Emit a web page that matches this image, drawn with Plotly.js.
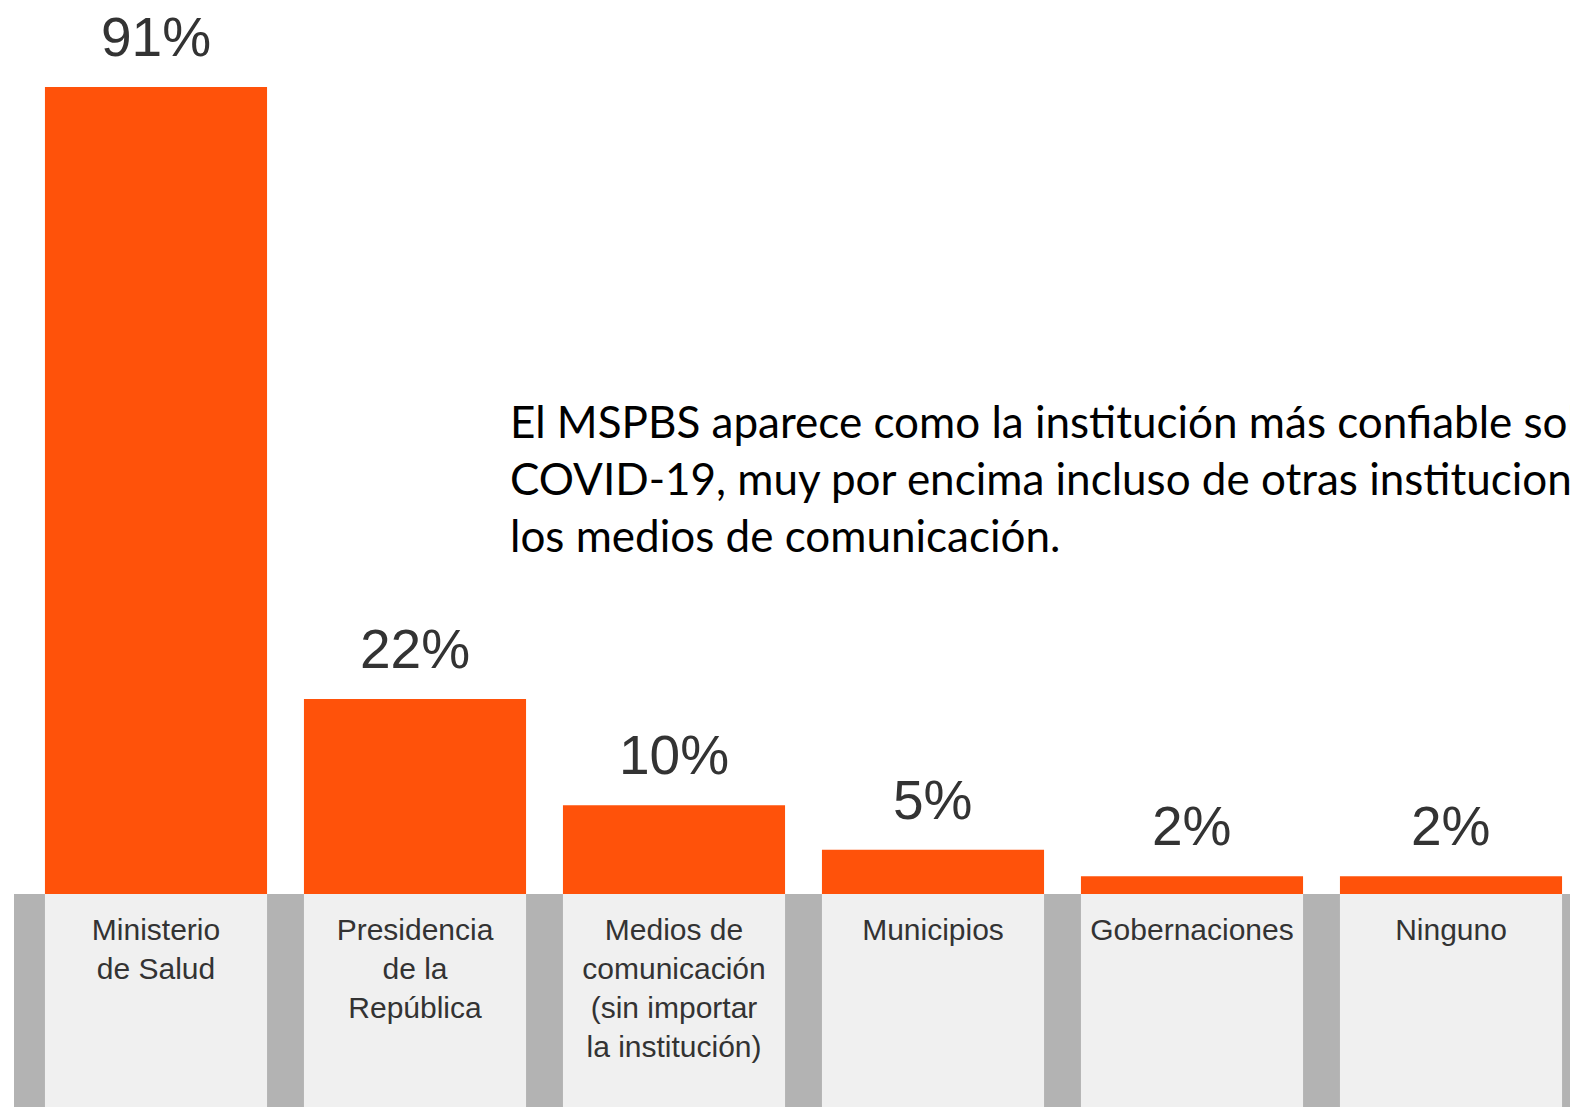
<!DOCTYPE html>
<html>
<head>
<meta charset="utf-8">
<script src="https://cdn.plot.ly/plotly-3.0.1.min.js"></script>
<style>
  html, body { margin: 0; padding: 0; background: #ffffff; }
  #chart { width: 1570px; height: 1107px; }
</style>
</head>
<body>
<div id="chart"></div>
<script>
// ---- data ----
const categories = ["Ministerio de Salud", "Presidencia de la República", "Medios de comunicación", "Municipios", "Gobernaciones", "Ninguno"];
const tickLabels = ["Ministerio<br>de Salud", "Presidencia<br>de la<br>República", "Medios de<br>comunicación<br>(sin importar<br>la institución)", "Municipios", "Gobernaciones", "Ninguno"];
const values = [91, 22, 10, 5, 2, 2];
const valueLabels = ["91%", "22%", "10%", "5%", "2%", "2%"];
const noteText = "El MSPBS aparece como la institución más confiable sobre<br>COVID-19, muy por encima incluso de otras instituciones y<br>los medios de comunicación.";

// ---- styling ----
const ORANGE = "#FF520A";
const DARK = "#333333";
const CELL = "#F0F0F0";
const BAND = "#B3B3B3";
const barGap = 0.1425;
const half = (1 - barGap) / 2;
const px = 259;
const firstCenter = 156;

const trace = {
  type: "bar",
  x: categories.map((c, i) => i),
  y: values,
  marker: { color: ORANGE, line: { width: 0 } },
  hoverinfo: "skip",
  showlegend: false
};

const shapes = [
  { type: "rect", xref: "paper", yref: "paper", x0: 14 / 1570, x1: 1.02, y0: -0.3, y1: 0,
    fillcolor: BAND, line: { width: 0 }, layer: "below" }
];
categories.forEach((c, i) => {
  shapes.push({ type: "rect", xref: "x", yref: "paper", x0: i - half, x1: i + half, y0: -0.3, y1: 0,
    fillcolor: CELL, line: { width: 0 }, layer: "below" });
});

const annotations = values.map((v, i) => ({
  x: i, y: v, xref: "x", yref: "y",
  text: valueLabels[i], showarrow: false,
  yanchor: "bottom", yshift: 17,
  font: { family: "Liberation Sans, Arial, sans-serif", size: 55, color: DARK }
}));
annotations.push({
  xref: "paper", yref: "paper", x: 508 / 1570, y: (894 - 478) / 894,
  xanchor: "left", yanchor: "middle", align: "left",
  text: noteText, showarrow: false,
  font: { family: "Lato, sans-serif", size: 44, color: "#000000" }
});

const layout = {
  width: 1570, height: 1107,
  margin: { l: 0, r: 0, t: 0, b: 213, pad: 0 },
  paper_bgcolor: "#ffffff", plot_bgcolor: "#ffffff",
  bargap: barGap,
  xaxis: {
    range: [-firstCenter / px, -firstCenter / px + 1570 / px],
    tickmode: "array", tickvals: categories.map((c, i) => i), ticktext: tickLabels,
    tickangle: 0, ticks: "", showgrid: false, zeroline: false, showline: false,
    ticklabelstandoff: 15,
    tickfont: { family: "Liberation Sans, Arial, sans-serif", size: 30, color: DARK },
    fixedrange: true
  },
  yaxis: {
    range: [0, 100.8], visible: false, showgrid: false, zeroline: false, fixedrange: true
  },
  shapes: shapes,
  annotations: annotations,
  showlegend: false
};

Plotly.newPlot("chart", [trace], layout, { displayModeBar: false, staticPlot: true });
</script>
</body>
</html>
